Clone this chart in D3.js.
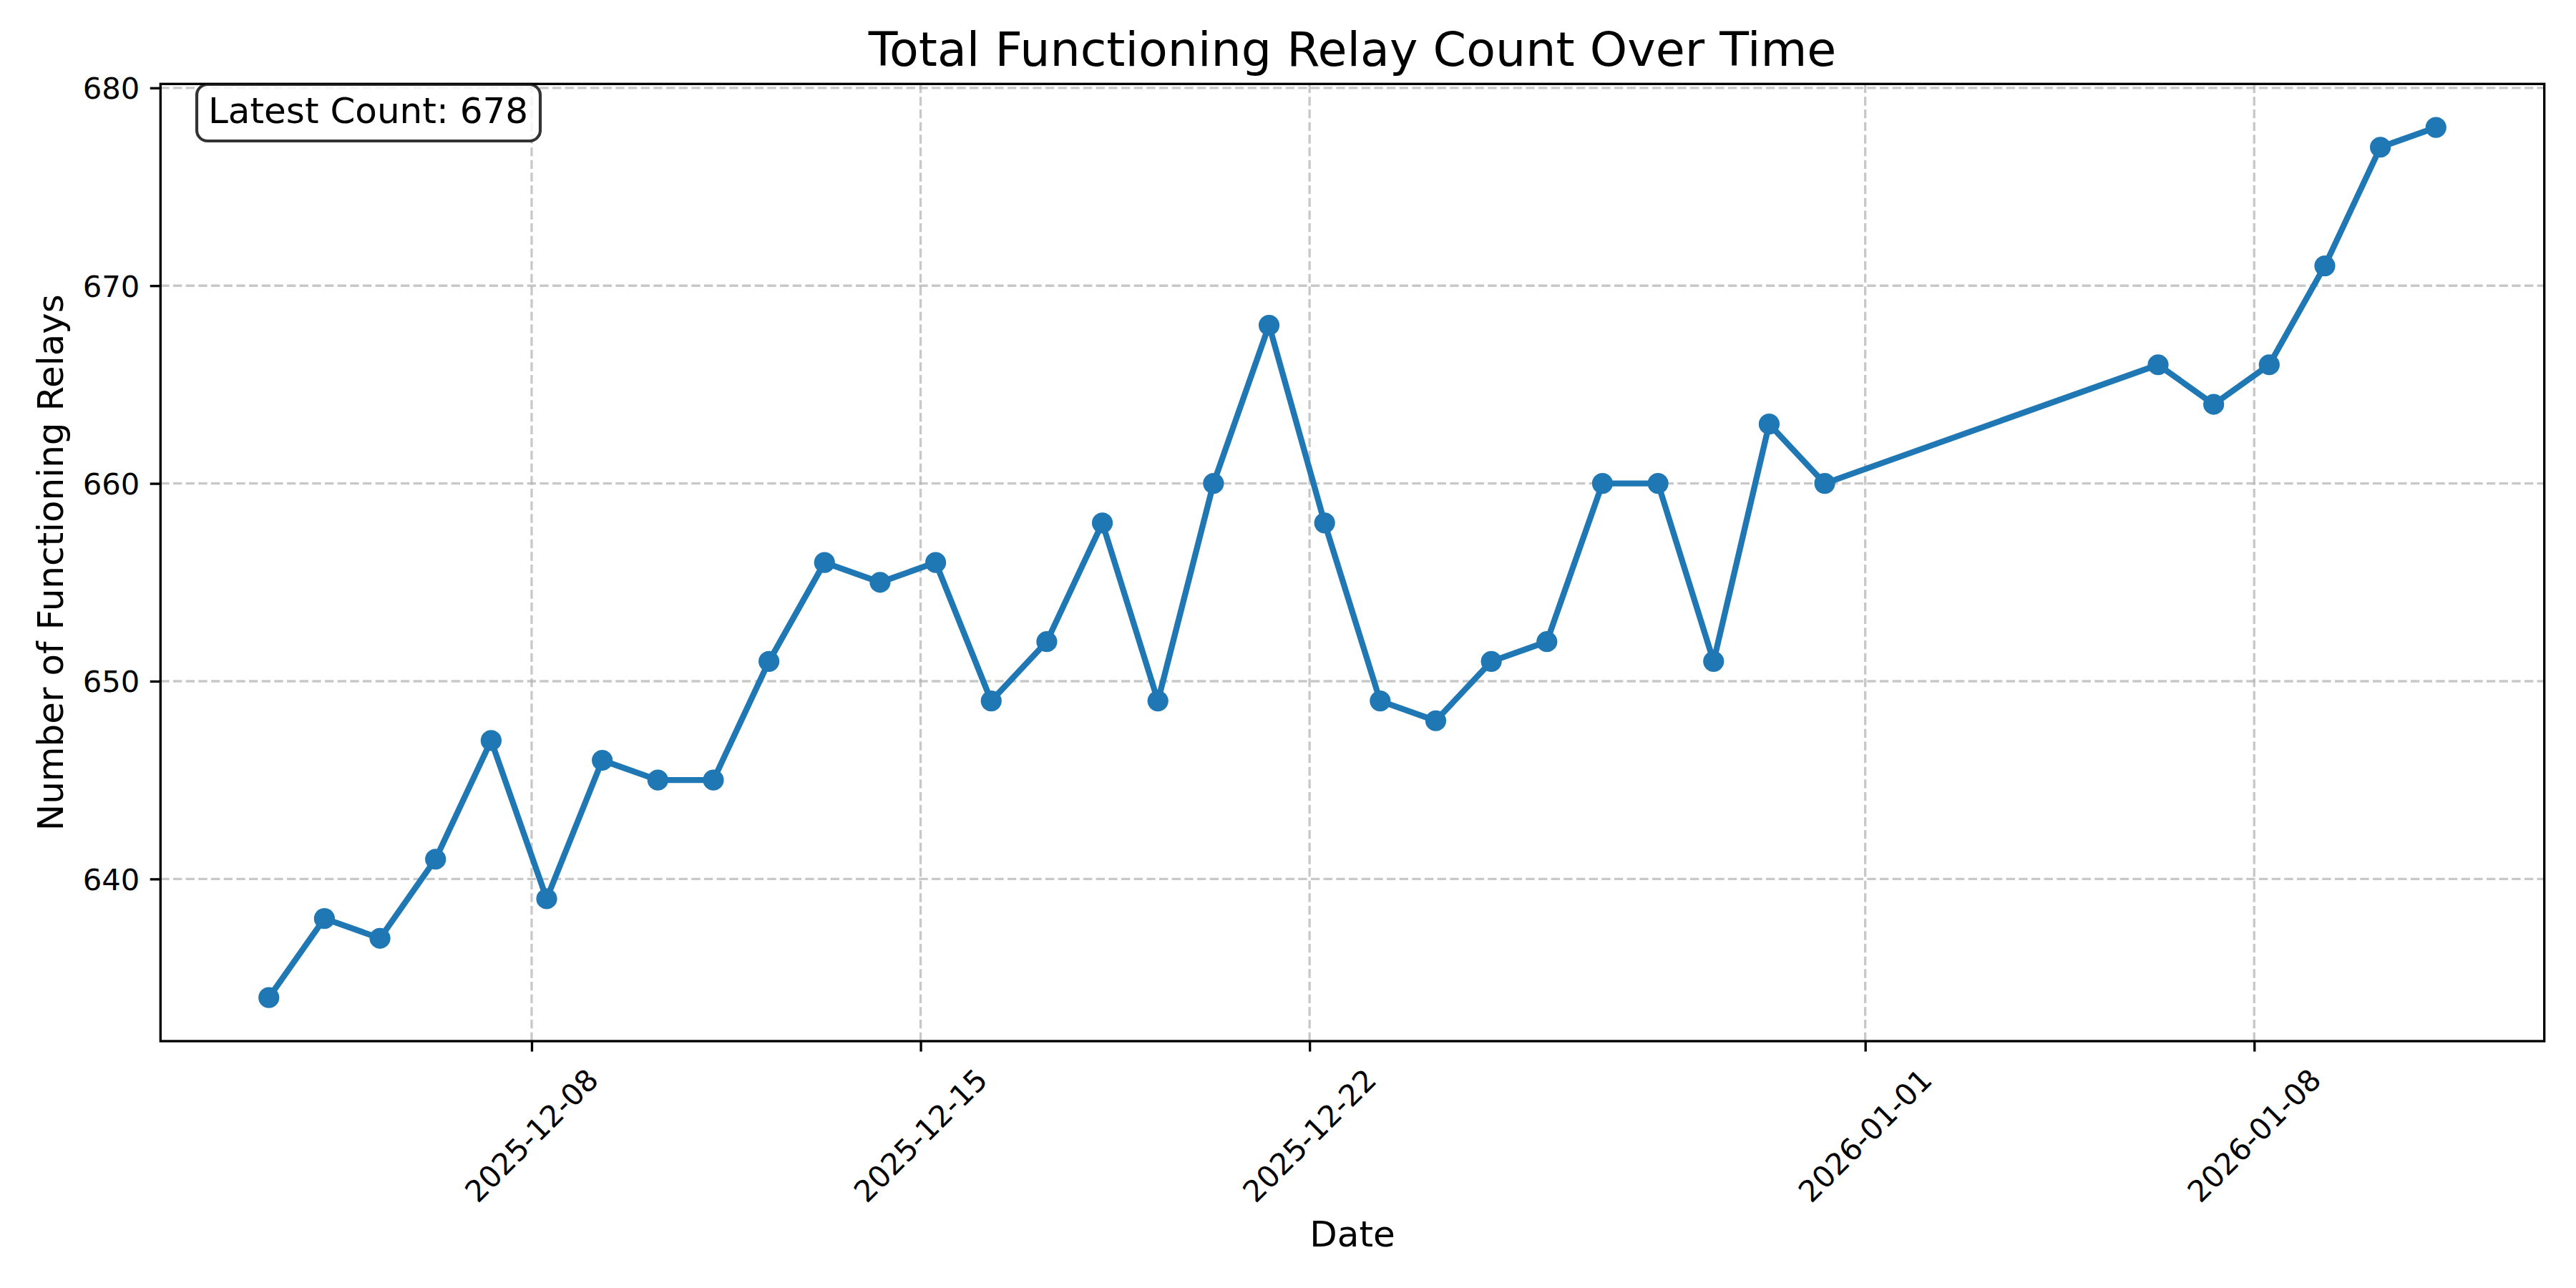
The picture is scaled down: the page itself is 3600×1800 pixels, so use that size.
<!DOCTYPE html>
<html>
<head>
<meta charset="utf-8">
<script src="https://cdn.jsdelivr.net/npm/d3@7"></script>
<style>
  body { margin: 0; background: #fff; }
  text { font-family: "DejaVu Sans", sans-serif; fill: #000; }
</style>
</head>
<body>
<svg id="chart" width="3600" height="1800"></svg>
<script>
// ---- data ----
const dates = [
  "2025-12-03","2025-12-04","2025-12-05","2025-12-06","2025-12-07","2025-12-08",
  "2025-12-09","2025-12-10","2025-12-11","2025-12-12","2025-12-13","2025-12-14",
  "2025-12-15","2025-12-16","2025-12-17","2025-12-18","2025-12-19","2025-12-20",
  "2025-12-21","2025-12-22","2025-12-23","2025-12-24","2025-12-25","2025-12-26",
  "2025-12-27","2025-12-28","2025-12-29","2025-12-30","2025-12-31",
  "2026-01-06","2026-01-07","2026-01-08","2026-01-09","2026-01-10","2026-01-11"
];
const counts = [
  634, 638, 637, 641, 647, 639,
  646, 645, 645, 651, 656, 655,
  656, 649, 652, 658, 649, 660,
  668, 658, 649, 648, 651, 652,
  660, 660, 651, 663, 660,
  666, 664, 666, 671, 677, 678
];
const sampleTime = "06:30";
const xTickLabels = ["2025-12-08","2025-12-15","2025-12-22","2026-01-01","2026-01-08"];
const yTickValues = [640, 650, 660, 670, 680];
const titleText = "Total Functioning Relay Count Over Time";
const xLabelText = "Date";
const yLabelText = "Number of Functioning Relays";
const annotationText = "Latest Count: " + counts[counts.length - 1];

// ---- layout ----
const W = 3600, H = 1800;
const plot = { left: 224.3, right: 3555.7, top: 117.3, bottom: 1455 };
const pt = 300 / 72;

const parseDT = d3.timeParse("%Y-%m-%dT%H:%M");
const parseD = d3.timeParse("%Y-%m-%d");
const data = dates.map((d, i) => ({ t: parseDT(d + "T" + sampleTime), v: counts[i] }));

const t0 = data[0].t.getTime(), t1 = data[data.length - 1].t.getTime();
const span = t1 - t0;
const x = d3.scaleTime()
  .domain([new Date(t0 - 0.05 * span), new Date(t1 + 0.05 * span)])
  .range([plot.left, plot.right]);

const vmin = d3.min(counts), vmax = d3.max(counts), vr = vmax - vmin;
const y = d3.scaleLinear()
  .domain([vmin - 0.05 * vr, vmax + 0.05 * vr])
  .range([plot.bottom, plot.top]);

const svg = d3.select("#chart");
svg.append("rect").attr("width", W).attr("height", H).attr("fill", "#fff");

const xTicks = xTickLabels.map(parseD);

// grid
const grid = svg.append("g")
  .attr("stroke", "#b0b0b0").attr("stroke-opacity", 0.7)
  .attr("stroke-width", 0.8 * pt).attr("stroke-dasharray", `${3.7 * 0.8 * pt},${1.6 * 0.8 * pt}`);
grid.selectAll("line.gy").data(yTickValues).join("line")
  .attr("x1", plot.left).attr("x2", plot.right)
  .attr("y1", d => y(d)).attr("y2", d => y(d));
grid.selectAll("line.gx").data(xTicks).join("line")
  .attr("y1", plot.bottom).attr("y2", plot.top)
  .attr("x1", d => x(d)).attr("x2", d => x(d));

// line + markers
svg.append("path").datum(data)
  .attr("fill", "none").attr("stroke", "#1f77b4")
  .attr("stroke-width", 2 * pt).attr("stroke-linejoin", "round").attr("stroke-linecap", "square")
  .attr("d", d3.line().x(d => x(d.t)).y(d => y(d.v)));
svg.append("g").selectAll("circle").data(data).join("circle")
  .attr("cx", d => x(d.t)).attr("cy", d => y(d.v))
  .attr("r", 14.6).attr("fill", "#1f77b4");

// axes
const tickLen = 3.5 * pt, tickPad = 3.5 * pt;
const yAxis = svg.append("g").attr("transform", `translate(${plot.left},0)`)
  .call(d3.axisLeft(y).tickValues(yTickValues).tickSize(tickLen).tickPadding(tickPad));
yAxis.select(".domain").remove();
yAxis.selectAll(".tick line").attr("stroke", "#000").attr("stroke-width", 0.8 * pt);
yAxis.selectAll(".tick text").attr("font-size", 10 * pt).attr("font-family", "DejaVu Sans").attr("dy", "0.36em");

const xAxis = svg.append("g").attr("transform", `translate(0,${plot.bottom})`)
  .call(d3.axisBottom(x).tickValues(xTicks).tickSize(tickLen).tickFormat(""));
xAxis.select(".domain").remove();
xAxis.selectAll(".tick line").attr("stroke", "#000").attr("stroke-width", 0.8 * pt);
xAxis.selectAll(".tick text").remove();

const fmt = d3.timeFormat("%Y-%m-%d");
svg.append("g").selectAll("text").data(xTicks).join("text")
  .attr("transform", d => `translate(${x(d)},${plot.bottom + 1587 - 1455}) rotate(-45)`)
  .attr("text-anchor", "middle").attr("dominant-baseline", "central")
  .attr("font-size", 10 * pt)
  .text(d => fmt(d));

// spines
svg.append("rect")
  .attr("x", plot.left).attr("y", plot.top)
  .attr("width", plot.right - plot.left).attr("height", plot.bottom - plot.top)
  .attr("fill", "none").attr("stroke", "#000").attr("stroke-width", 0.8 * pt);

// annotation box
const ann = svg.append("g");
ann.append("rect")
  .attr("x", 275).attr("y", 118).attr("width", 480).attr("height", 79)
  .attr("rx", 15).attr("ry", 15)
  .attr("fill", "#fff").attr("fill-opacity", 0.8)
  .attr("stroke", "#000").attr("stroke-opacity", 0.8).attr("stroke-width", 1 * pt);
ann.append("text")
  .attr("x", 291).attr("y", 172)
  .attr("font-size", 12 * pt)
  .text(annotationText);

// title & labels
svg.append("text")
  .attr("x", (plot.left + plot.right) / 2).attr("y", 92)
  .attr("text-anchor", "middle").attr("font-size", 16 * pt)
  .text(titleText);
svg.append("text")
  .attr("x", (plot.left + plot.right) / 2).attr("y", 1742)
  .attr("text-anchor", "middle").attr("font-size", 12 * pt)
  .text(xLabelText);
svg.append("text")
  .attr("transform", `translate(88,${(plot.top + plot.bottom) / 2}) rotate(-90)`)
  .attr("text-anchor", "middle").attr("font-size", 12 * pt)
  .text(yLabelText);
</script>
</body>
</html>
